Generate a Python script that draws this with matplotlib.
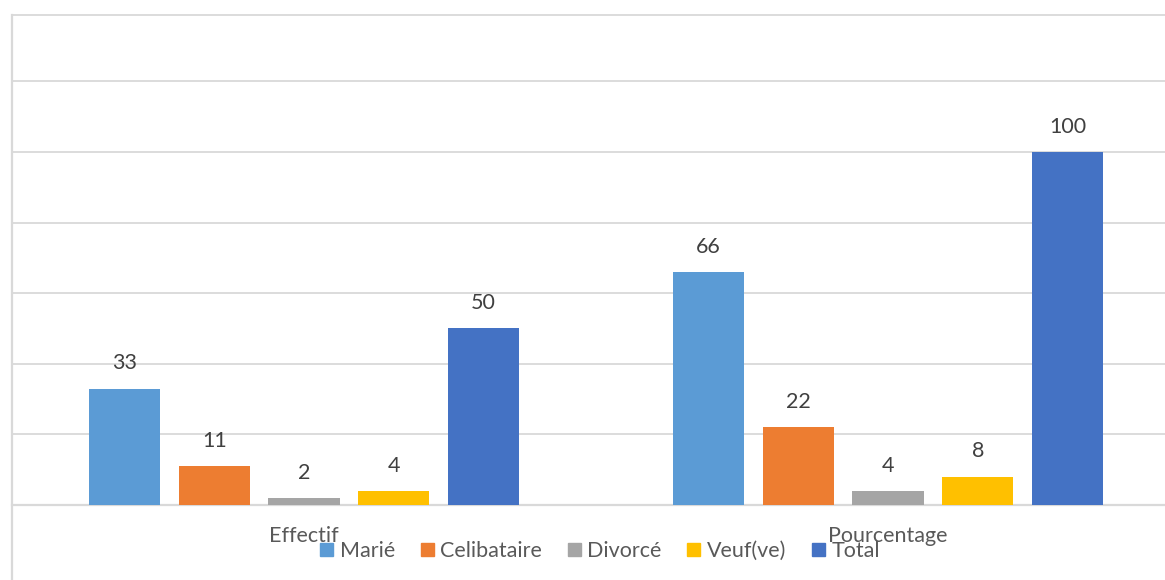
import matplotlib
matplotlib.use("Agg")
import matplotlib.pyplot as plt
from matplotlib.lines import Line2D
import numpy as np

categories = ["Effectif", "Pourcentage"]
series_names = ["Marié", "Celibataire", "Divorcé", "Veuf(ve)", "Total"]
marie = [33, 66]
celibataire = [11, 22]
divorce = [2, 4]
veuf = [4, 8]
total = [50, 100]
values = [marie, celibataire, divorce, veuf, total]
colors = ["#5B9BD5", "#ED7D31", "#A5A5A5", "#FFC000", "#4472C4"]

plt.rcParams['font.family'] = ['Lato', 'DejaVu Sans']

W, H = 1165, 580
fig = plt.figure(figsize=(W / 100, H / 100), dpi=100)
left_px, right_px, base_px, top_px = 12, 1180, 505, 15
ax = fig.add_axes([left_px / W, (H - base_px) / H, (right_px - left_px) / W, (base_px - top_px) / H])

x = np.arange(len(categories))
step = 0.1537
width = 0.1216
for i, (name, vals, c) in enumerate(zip(series_names, values, colors)):
    pos = x + (i - 2) * step
    bars = ax.bar(pos, vals, width=width, color=c, label=name, zorder=3)
    for b, v in zip(bars, vals):
        ax.annotate(str(v), (b.get_x() + b.get_width() / 2, v), xytext=(0, 11),
                    textcoords="offset points", ha="center", va="bottom",
                    fontsize=15.5, color="#404040")

ax.set_xlim(-0.5, 1.5)
ax.set_ylim(0, 138.8)
ax.set_yticks(np.arange(0, 121, 20))
ax.yaxis.grid(True, color="#D9D9D9", linewidth=1.3, zorder=0)
ax.tick_params(axis='y', left=False, labelleft=False)
ax.set_xticks(x)
ax.set_xticklabels(categories, fontsize=15.5, color="#595959")
ax.tick_params(axis='x', length=0, pad=15)
ax.spines["right"].set_visible(False)
ax.spines["left"].set_visible(False)
ax.spines["top"].set_color("#D9D9D9")
ax.spines["top"].set_linewidth(1.3)
ax.spines["bottom"].set_color("#D9D9D9")
ax.spines["bottom"].set_linewidth(1.6)

# outer frame left line
fig.add_artist(Line2D([left_px / W, left_px / W], [0, 1 - top_px / H], color="#D9D9D9", linewidth=1.6,
                      transform=fig.transFigure))

handles = [plt.Rectangle((0, 0), 1, 1, color=c) for c in colors]
fig.legend(handles, series_names, loc="center", bbox_to_anchor=(600 / W, 1 - 551 / H), ncol=5,
           frameon=False, fontsize=15.5, labelcolor="#595959", handlelength=0.6, handleheight=0.6,
           handletextpad=0.3, columnspacing=1.2, borderpad=0)

fig.savefig("out.png", dpi=100, facecolor="white")
